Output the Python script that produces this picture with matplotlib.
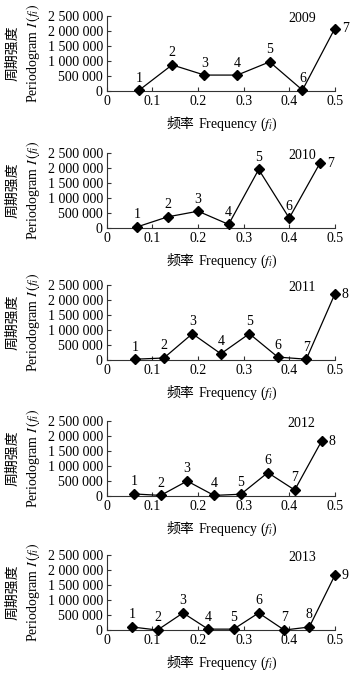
import matplotlib
matplotlib.use("Agg")
from matplotlib import pyplot as plt
from matplotlib.ticker import FuncFormatter

plt.rcParams['font.family'] = ['Liberation Serif', 'Noto Sans CJK SC']
plt.rcParams['mathtext.fontset'] = 'stix'
plt.rcParams['font.size'] = 10

# data
years = ['2009', '2010', '2011', '2012', '2013']
freq_2009 = [0.071, 0.143, 0.214, 0.286, 0.357, 0.429, 0.5]
freq_2010 = [0.067, 0.133, 0.2, 0.267, 0.333, 0.4, 0.467]
freq_2011 = [0.0625, 0.125, 0.1875, 0.25, 0.3125, 0.375, 0.4375, 0.5]
freq_2012 = [0.059, 0.118, 0.176, 0.235, 0.294, 0.353, 0.412, 0.471]
freq_2013 = [0.056, 0.111, 0.167, 0.222, 0.278, 0.333, 0.389, 0.444, 0.5]
pgram_2009 = [30000, 870000, 530000, 530000, 970000, 30000, 2080000]
pgram_2010 = [40000, 370000, 560000, 120000, 1950000, 330000, 2150000]
pgram_2011 = [30000, 70000, 880000, 210000, 880000, 100000, 30000, 2200000]
pgram_2012 = [70000, 20000, 500000, 20000, 60000, 780000, 200000, 1830000]
pgram_2013 = [100000, 0, 570000, 30000, 30000, 570000, 0, 100000, 1820000]

freqs = [freq_2009, freq_2010, freq_2011, freq_2012, freq_2013]
pgrams = [pgram_2009, pgram_2010, pgram_2011, pgram_2012, pgram_2013]
yticks = [0, 500000, 1000000, 1500000, 2000000, 2500000]
xticks = [0, 0.1, 0.2, 0.3, 0.4, 0.5]

fig = plt.figure(figsize=(3.6, 6.82), dpi=100)
bottoms = [0.8666, 0.6657, 0.472, 0.2727, 0.0762]


def fmt(v, pos):
    return '{:,}'.format(int(v)).replace(',', ' ')


for i in range(5):
    ax = fig.add_axes([0.297, bottoms[i], 0.633, 0.110])
    f = freqs[i]
    p = pgrams[i]
    ax.plot(f, p, 'k-', lw=0.9, marker='D', markersize=5.5, clip_on=False, zorder=3)
    for k in range(len(f)):
        if k == len(f) - 1:
            ax.annotate(str(k + 1), (f[k], p[k]), xytext=(5, 0),
                        textcoords='offset points', ha='left', va='center')
        else:
            ax.annotate(str(k + 1), (f[k], p[k]), xytext=(0, 4),
                        textcoords='offset points', ha='center', va='bottom')
    ax.text(0.855, 0.97, years[i], transform=ax.transAxes, ha='center', va='center')
    ax.set_xlim(0, 0.5)
    ax.set_ylim(0, 2500000)
    ax.set_xticks(xticks)
    ax.set_xticklabels(['0', '0.1', '0.2', '0.3', '0.4', '0.5'])
    ax.set_yticks(yticks)
    ax.yaxis.set_major_formatter(FuncFormatter(fmt))
    ax.tick_params(direction='in', length=3, width=0.8, pad=3, colors='#333333', labelcolor='black')
    for s in ['left', 'bottom']:
        ax.spines[s].set_color('#333333')
    ax.spines['top'].set_visible(False)
    ax.spines['right'].set_visible(False)
    ax.set_ylabel('周期强度\nPeriodogram $I\\,(f_i)$', linespacing=1.35)
    ax.yaxis.set_label_coords(-0.285, 0.5)
    # x label split so the Chinese part keeps its own font
    ax.text(0.385, -0.44, '频率', transform=ax.transAxes, ha='right', va='center')
    ax.text(0.40, -0.44, 'Frequency ($f_i$)', transform=ax.transAxes, ha='left', va='center')

fig.savefig('out.png', dpi=100)
